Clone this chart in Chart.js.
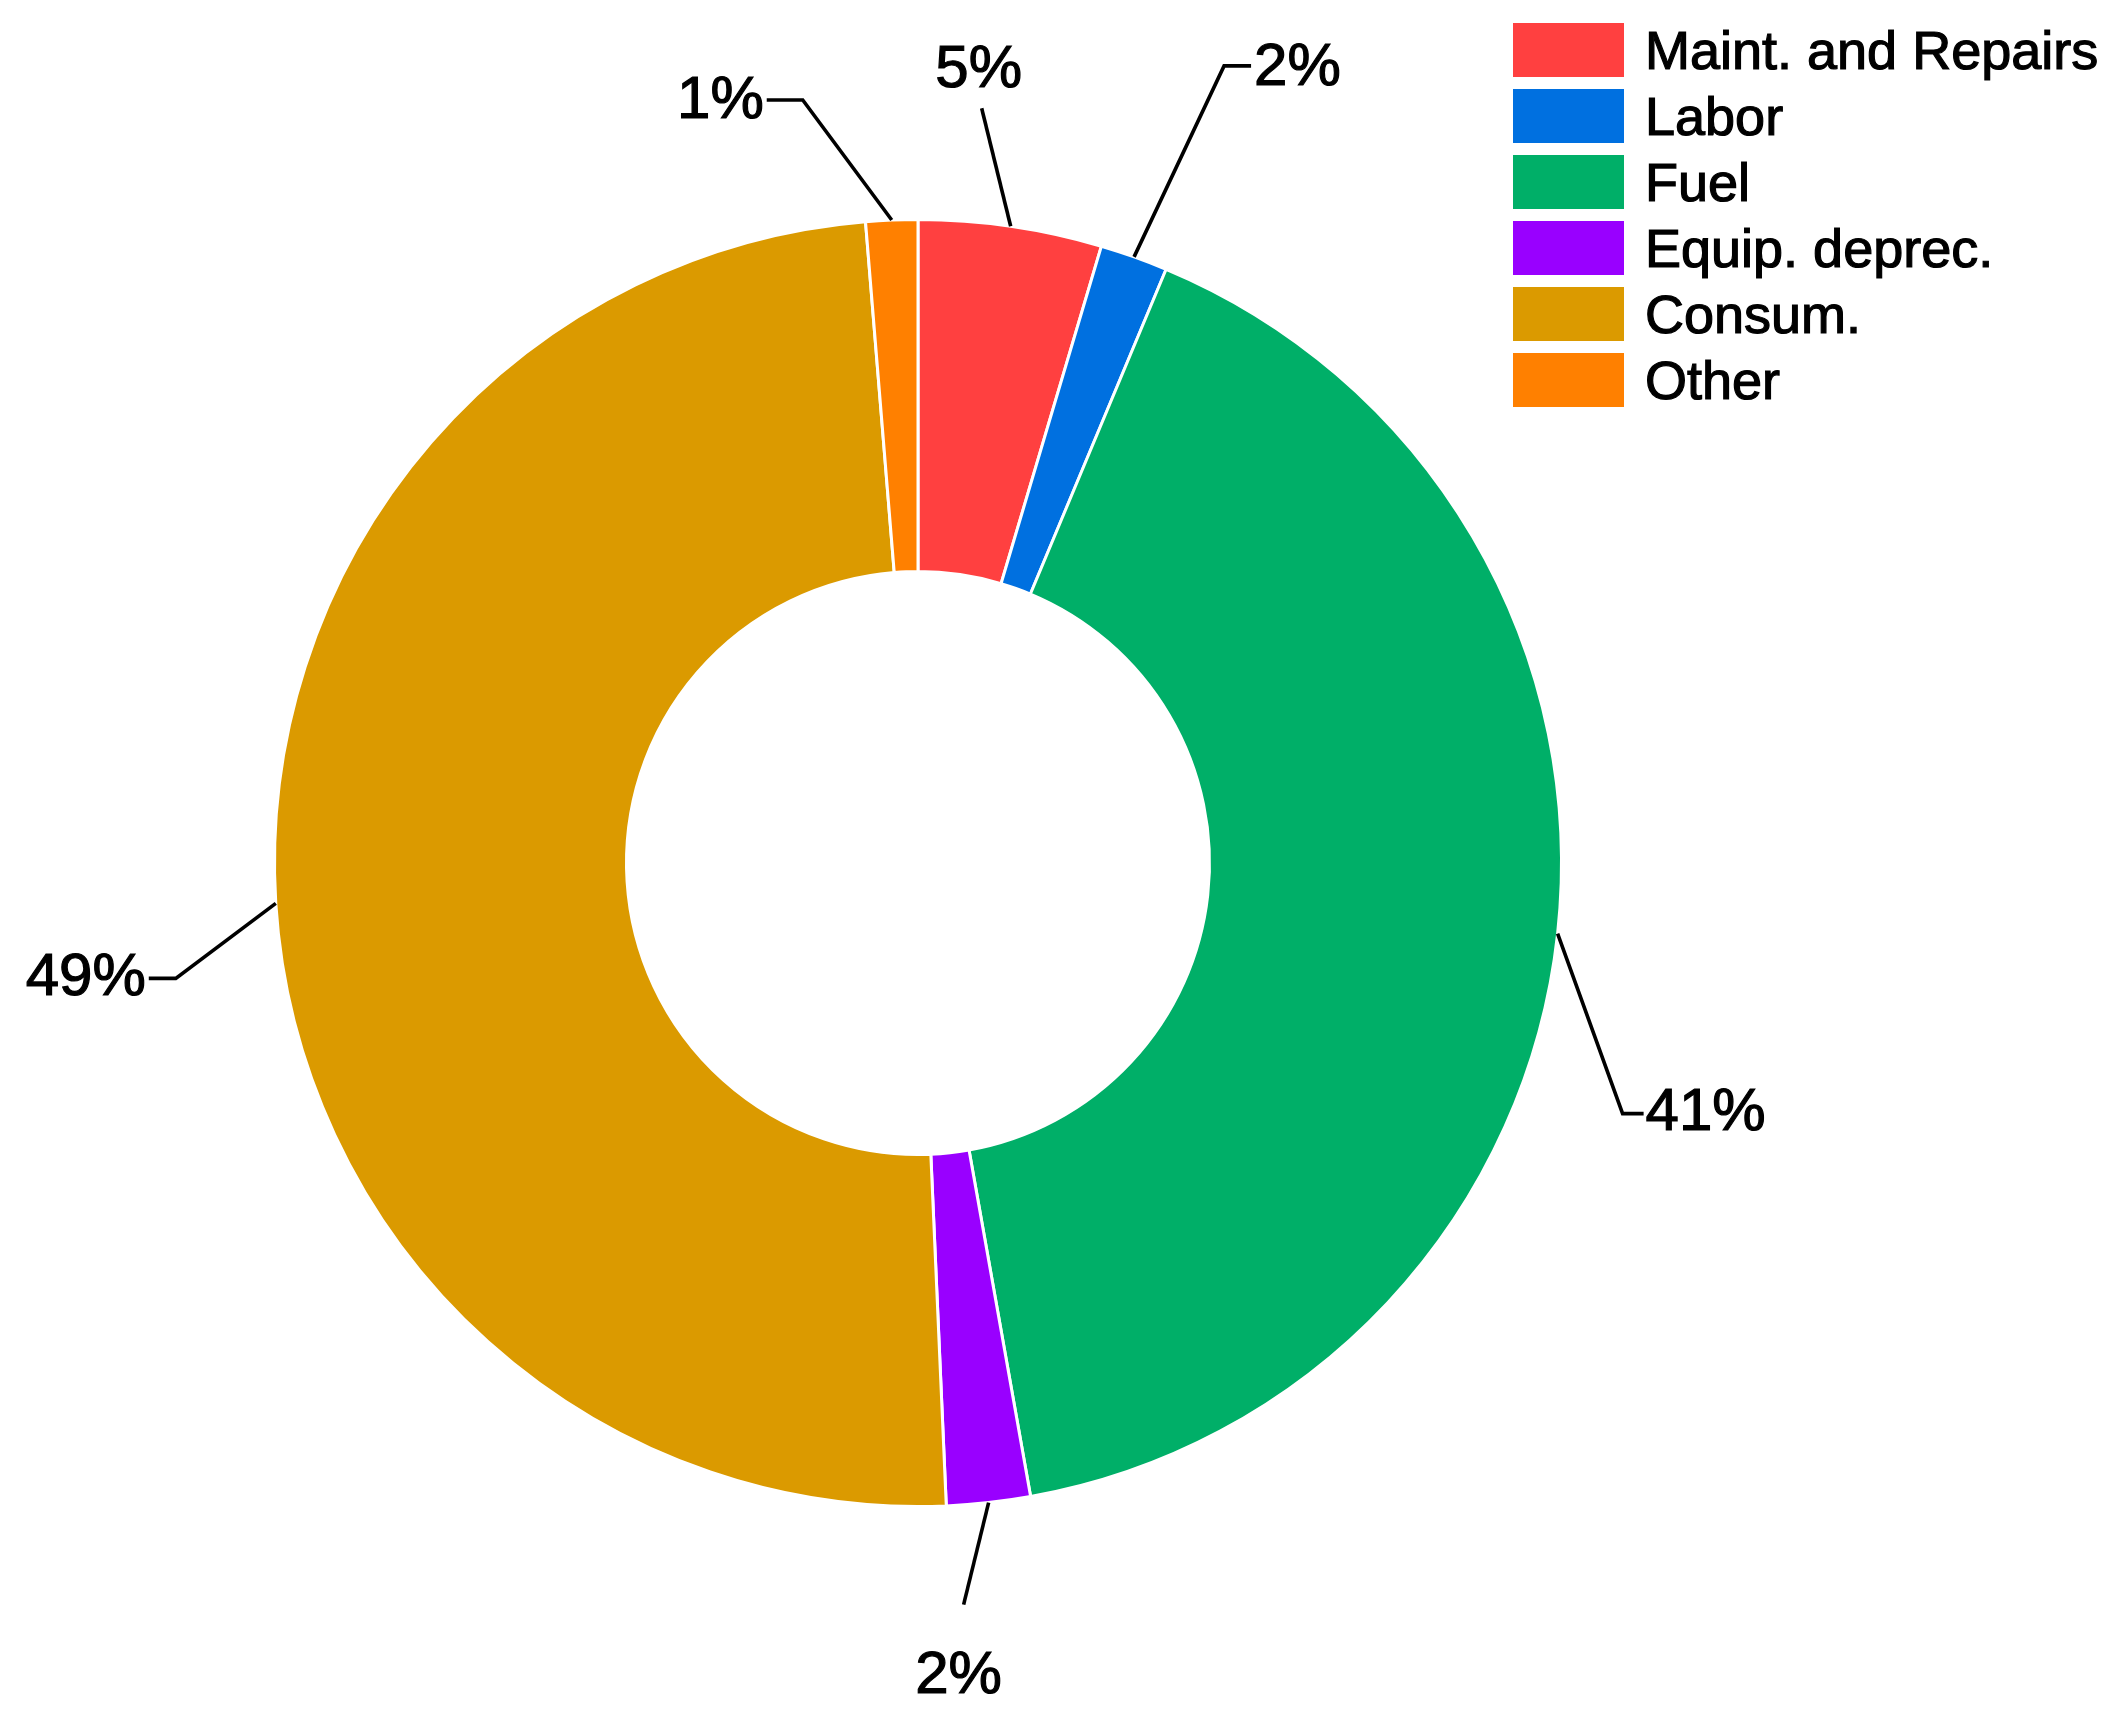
<!DOCTYPE html>
<html>
<head>
<meta charset="utf-8">
<script src="https://cdn.jsdelivr.net/npm/chart.js@4/dist/chart.umd.min.js"></script>
<style>
  html, body { margin: 0; padding: 0; background: #ffffff; }
  #wrap { position: relative; width: 2109px; height: 1728px; background: #ffffff; }
  #c { position: absolute; left: 0; top: 0; }
  #legend { position: absolute; left: 1513px; top: 23px; font-family: "Liberation Sans", Arial, sans-serif; font-size: 54px; color: #000; -webkit-text-stroke: 1.2px #000; }
  .item { display: flex; align-items: center; height: 54px; margin-bottom: 12px; white-space: nowrap; }
  .sw { width: 111px; height: 54px; margin-right: 21px; flex: none; }
</style>
</head>
<body>
<div id="wrap">
  <canvas id="c" width="2109" height="1728"></canvas>
  <div id="legend"></div>
</div>
<script>
// ---- data ----
const categories = ["Maint. and Repairs", "Labor", "Fuel", "Equip. deprec.", "Consum.", "Other"];
const shares = [4.6, 1.7, 40.9, 2.1, 49.4, 1.3];
const colors = ["#FF4040", "#0070E0", "#00AF68", "#9900FF", "#DB9A00", "#FF8000"];

// ---- label placement (offsets from each slice's outer mid point) ----
const labelLayout = [
  { elbow: [-29, -118], run: 0,   align: "center", text: [-3, -38] },
  { elbow: [90, -191],  run: 27,  align: "left",   text: [3, 3] },
  { elbow: [65, 180],   run: 21,  align: "left",   text: [2, 0] },
  { elbow: [-25, 102],  run: 0,   align: "center", text: [-5, 72] },
  { elbow: [-100, 75],  run: -27, align: "right",  text: [-3, 0] },
  { elbow: [-89, -120], run: -36, align: "right",  text: [-3, 1] }
];

// legend (HTML)
const leg = document.getElementById("legend");
categories.forEach((name, i) => {
  const it = document.createElement("div");
  it.className = "item";
  const sw = document.createElement("div");
  sw.className = "sw";
  sw.style.background = colors[i];
  const tx = document.createElement("span");
  tx.textContent = name;
  it.appendChild(sw); it.appendChild(tx);
  leg.appendChild(it);
});

const leaderPlugin = {
  id: "leaders",
  afterDatasetsDraw(chart) {
    const ctx = chart.ctx;
    const meta = chart.getDatasetMeta(0);
    const data = chart.data.datasets[0].data;
    const total = data.reduce((a, b) => a + b, 0);
    ctx.save();
    ctx.strokeStyle = "#000";
    ctx.fillStyle = "#000";
    ctx.font = "60px 'Liberation Sans', Arial, sans-serif";
    ctx.textBaseline = "middle";
    ctx.lineJoin = "miter";
    meta.data.forEach((arc, i) => {
      const p = arc.getProps(["x", "y", "startAngle", "endAngle", "outerRadius"], true);
      const mid = (p.startAngle + p.endAngle) / 2;
      const ax = p.x + Math.cos(mid) * p.outerRadius;
      const ay = p.y + Math.sin(mid) * p.outerRadius;
      const L = labelLayout[i];
      const ex = ax + L.elbow[0], ey = ay + L.elbow[1];
      const hx = ex + L.run;
      ctx.lineWidth = 3.6;
      ctx.beginPath();
      ctx.moveTo(ax, ay);
      ctx.lineTo(ex, ey);
      if (L.run !== 0) ctx.lineTo(hx, ey);
      ctx.stroke();
      ctx.textAlign = L.align;
      const pct = Math.round(data[i] / total * 100) + "%";
      const tx = hx + L.text[0], ty = ey + L.text[1];
      ctx.fillText(pct, tx, ty);
      ctx.lineWidth = 1.2;
      ctx.strokeText(pct, tx, ty);
    });
    ctx.restore();
  }
};

new Chart(document.getElementById("c"), {
  type: "doughnut",
  data: {
    labels: categories,
    datasets: [{
      data: shares,
      backgroundColor: colors,
      borderColor: "#ffffff",
      borderWidth: 3,
      hoverOffset: 0
    }]
  },
  options: {
    responsive: false,
    animation: false,
    devicePixelRatio: 1,
    cutout: "45.3%",
    layout: { padding: { left: 273, right: 546, top: 218, bottom: 220 } },
    plugins: { legend: { display: false }, tooltip: { enabled: false } }
  },
  plugins: [leaderPlugin]
});
</script>
</body>
</html>
